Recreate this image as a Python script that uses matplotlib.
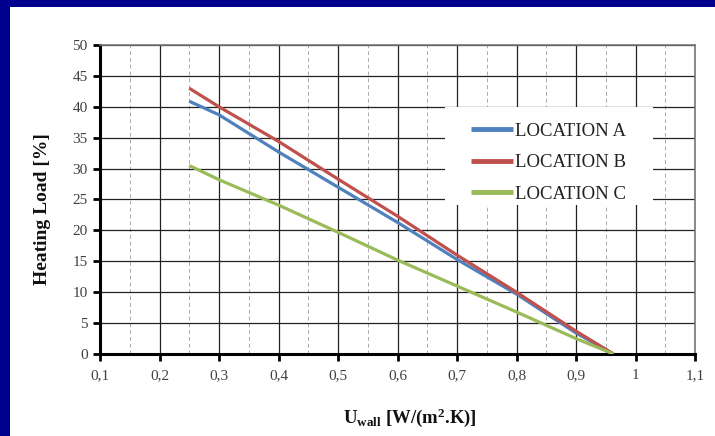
import matplotlib.pyplot as plt
from matplotlib.patches import Rectangle
from matplotlib.ticker import MultipleLocator, FuncFormatter

plt.rcParams['mathtext.fontset'] = 'custom'
plt.rcParams['mathtext.rm'] = 'Liberation Serif:bold'
plt.rcParams['mathtext.it'] = 'Liberation Serif:bold'
plt.rcParams['mathtext.bf'] = 'Liberation Serif:bold'

# U-value of the wall and heating load for each location
u_wall = [0.25, 0.3, 0.4, 0.5, 0.6, 0.7, 0.8, 0.9, 0.963]
load_a = [40.9, 38.7, 32.7, 27.0, 21.3, 15.3, 9.7, 3.4, 0.0]
load_b = [43.0, 40.0, 34.4, 28.3, 22.3, 16.0, 10.0, 3.7, 0.0]
load_c = [30.5, 28.2, 24.1, 19.7, 15.2, 11.0, 6.8, 2.5, 0.0]
labels = ['LOCATION A', 'LOCATION B', 'LOCATION C']
colors = ['#4F81BD', '#C0504D', '#9BBB59']

fig = plt.figure(figsize=(7.15, 4.36), dpi=100)
fig.patch.set_facecolor('#00008E')
fig.patches.append(Rectangle((10 / 715, 0), 705 / 715, 429 / 436,
                             transform=fig.transFigure, facecolor='white',
                             edgecolor='none', zorder=-10))

ax = fig.add_axes([100 / 715, 82 / 436, 595 / 715, 309 / 436])
ax.set_facecolor('white')

for ys, lab, c in zip([load_a, load_b, load_c], labels, colors):
    ax.plot(u_wall, ys, color=c, lw=2.3, label=lab, solid_capstyle='butt', zorder=3)

ax.set_xlim(0.1, 1.1)
ax.set_ylim(0, 50)
ax.xaxis.set_major_locator(MultipleLocator(0.1))
ax.xaxis.set_minor_locator(MultipleLocator(0.05))
ax.yaxis.set_major_locator(MultipleLocator(5))

def comma(v, pos):
    s = ('%.1f' % v).rstrip('0').rstrip('.')
    return s.replace('.', ',')

ax.xaxis.set_major_formatter(FuncFormatter(comma))

ax.grid(which='major', color='#222222', lw=0.9, zorder=1)
ax.grid(which='minor', axis='x', color='#aaaaaa', lw=0.7, ls=(0, (4, 3)), zorder=1)

for side in ['left', 'bottom']:
    ax.spines[side].set_linewidth(2.2)
    ax.spines[side].set_color('black')
for side in ['top', 'right']:
    ax.spines[side].set_linewidth(1.2)
    ax.spines[side].set_color('#777777')

ax.tick_params(which='major', length=5, width=2, color='black', direction='out',
               labelsize=11, labelcolor='#404040', pad=4)
ax.tick_params(axis='x', pad=6)
ax.tick_params(which='minor', length=0)
for t in ax.get_xticklabels() + ax.get_yticklabels():
    t.set_fontfamily('Liberation Serif')

ax.set_ylabel('Heating Load [%]', fontsize=14, fontweight='bold',
              family='Liberation Serif', color='#111111')
ax.yaxis.set_label_coords(-0.082, 0.47)
ax.set_xlabel(r'$\mathrm{U_{wall}}$ [W/(m$^{\mathrm{2}}$.K)]', fontsize=13.5,
              fontweight='bold', family='Liberation Serif', color='#111111')
ax.xaxis.set_label_coords(0.52, -0.17)

# white box behind the legend, hiding the grid there
ax.add_patch(Rectangle((0.580, 0.482), 0.349, 0.317, transform=ax.transAxes,
                       facecolor='white', edgecolor='none', zorder=2))

leg = ax.legend(loc='upper left', bbox_to_anchor=(0.624, 0.748), frameon=False,
                prop={'family': 'Liberation Serif', 'size': 13.5},
                handlelength=2.2, handletextpad=0.12, labelspacing=0.76,
                borderpad=0, borderaxespad=0)
for t in leg.get_texts():
    t.set_color('#222222')
for h in leg.legend_handles:
    h.set_linewidth(3.5)

fig.savefig('out.png', dpi=100, facecolor=fig.get_facecolor())
